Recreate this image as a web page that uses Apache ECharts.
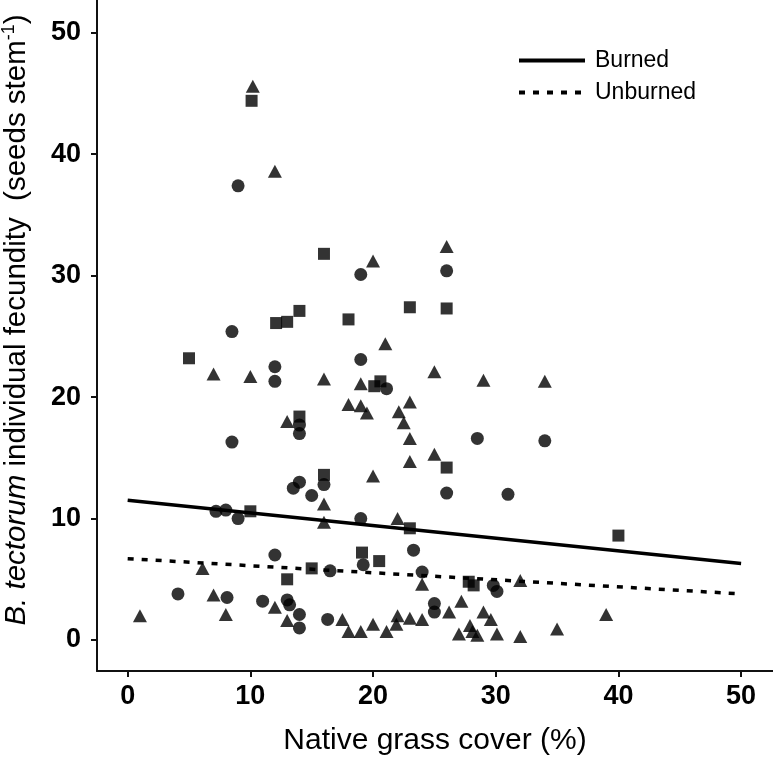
<!DOCTYPE html>
<html>
<head>
<meta charset="utf-8">
<script src="https://cdn.jsdelivr.net/npm/echarts@6/dist/echarts.min.js"></script>
<style>
html,body{margin:0;padding:0;background:#fff;}
#chart{width:773px;height:761px;}
</style>
</head>
<body>
<div id="chart"></div>
<script>
// ---- data ----
const tickValues = [0, 10, 20, 30, 40, 50];
const burnedLine = [[0, 11.5], [50, 6.3]];
const unburnedLine = [[0, 6.7], [50, 3.8]];
const circles = [
  [9.0,37.4],[19.0,30.1],[26.0,30.4],[8.5,25.4],[19.0,23.1],[12.0,22.5],[12.0,21.3],[21.1,20.7],
  [14.0,17.7],[14.0,17.0],[8.5,16.3],[34.0,16.4],[28.5,16.6],[13.5,12.5],[14.0,13.0],[16.0,12.8],
  [15.0,11.9],[7.2,10.6],[8.0,10.7],[9.0,10.0],[19.0,10.0],[12.0,7.0],[19.2,6.2],[16.5,5.7],
  [24.0,5.6],[23.3,7.4],[4.1,3.8],[8.1,3.5],[11.0,3.2],[13.0,3.3],[13.2,2.9],[14.0,2.1],
  [14.0,1.0],[16.3,1.7],[25.0,3.0],[25.0,2.3],[29.8,4.5],[30.1,4.0],[26.0,12.1],[31.0,12.0]
];
const squares = [
  [10.1,44.4],[16.0,31.8],[14.0,27.1],[12.1,26.1],[13.0,26.2],[18.0,26.4],[23.0,27.4],[26.0,27.3],
  [5.0,23.2],[20.1,20.9],[20.6,21.3],[14.0,18.4],[26.0,14.2],[16.0,13.6],[10.0,10.6],[23.0,9.2],
  [40.0,8.6],[19.1,7.2],[20.5,6.5],[15.0,5.9],[13.0,5.0],[27.8,4.8],[28.2,4.5]
];
const triangles = [
  [10.2,45.6],[12.0,38.6],[20.0,31.2],[26.0,32.4],[21.0,24.4],[7.0,21.9],[10.0,21.7],[16.0,21.5],
  [19.0,21.1],[18.0,19.4],[19.0,19.3],[19.5,18.7],[22.1,18.8],[22.5,17.9],[23.0,19.6],[23.0,16.6],
  [23.0,14.7],[25.0,22.1],[25.0,15.3],[29.0,21.4],[34.0,21.3],[13.0,18.0],[20.0,13.5],[16.0,11.2],
  [16.0,9.7],[22.0,10.0],[6.1,5.9],[7.0,3.7],[8.0,2.1],[1.0,2.0],[12.0,2.7],[13.0,1.6],
  [17.5,1.7],[18.0,0.7],[19.0,0.7],[20.0,1.3],[21.1,0.7],[22.0,2.0],[21.9,1.3],[23.0,1.8],
  [24.0,1.7],[24.0,4.6],[27.2,3.2],[26.2,2.3],[29.0,2.3],[29.6,1.7],[27.9,1.2],[28.1,0.7],
  [28.5,0.4],[27.0,0.5],[30.1,0.5],[32.0,0.3],[32.0,4.9],[35.0,0.9],[39.0,2.1]
];
const xTitle = 'Native grass cover (%)';
const legendNames = ['Burned', 'Unburned'];

// ---- chart ----
const FONT = '"Liberation Sans", Arial, Helvetica, sans-serif';
const INK = '#000';
const chart = echarts.init(document.getElementById('chart'), null, {renderer: 'canvas'});

function axisCommon() {
  return {
    type: 'value',
    splitLine: {show: false},
    axisLine: {show: true, onZero: false, lineStyle: {color: '#111', width: 2}},
    axisTick: {show: true, customValues: tickValues, length: 6, lineStyle: {color: '#111', width: 2}},
    axisLabel: {customValues: tickValues, color: INK, fontSize: 27, fontFamily: FONT, fontWeight: 'bold'}
  };
}

const xAxis = Object.assign(axisCommon(), {
  min: -2.5, max: 52.6,
  name: xTitle, nameLocation: 'middle', nameGap: 55,
  nameTextStyle: {fontSize: 30, color: INK, fontFamily: FONT}
});
xAxis.axisLabel.margin = 12;
const yAxis = Object.assign(axisCommon(), {min: -2.55, max: 52.7});
yAxis.axisLabel.margin = 16;

chart.setOption({
  backgroundColor: '#fff',
  animation: false,
  grid: {left: 97, right: 0, top: 0, bottom: 84, containLabel: false},
  xAxis: xAxis,
  yAxis: yAxis,
  legend: {
    data: legendNames,
    orient: 'vertical',
    left: 512, top: 44,
    itemWidth: 66, itemHeight: 22, itemGap: 9,
    itemStyle: {opacity: 0},
    lineStyle: {width: 4, color: INK},
    textStyle: {fontSize: 23, color: INK, fontFamily: FONT, padding: [0, 0, 0, 5]}
  },
  graphic: [{
    type: 'text',
    x: 17, y: 320,
    rotation: Math.PI / 2,
    style: {
      text: '{i|B. tectorum} individual fecundity  (seeds stem{sup|-1})',
      fontSize: 29.5, fontFamily: FONT, fill: INK,
      align: 'center', verticalAlign: 'middle',
      rich: {
        i: {fontSize: 29.5, fontStyle: 'italic', fontFamily: FONT, lineHeight: 34},
        sup: {fontSize: 18, fontFamily: FONT, verticalAlign: 'top', lineHeight: 34, padding: [0, 0, 10, 0]}
      }
    }
  }],
  series: [
    {name: 'Burned', type: 'line', data: burnedLine, symbol: 'none', lineStyle: {color: INK, width: 3.5, type: 'solid'}, itemStyle: {color: INK}, z: 3},
    {name: 'Unburned', type: 'line', data: unburnedLine, symbol: 'none', lineStyle: {color: INK, width: 3.5, type: [6, 8]}, itemStyle: {color: INK}, z: 3},
    {name: 'circles', type: 'scatter', data: circles, symbol: 'circle', symbolSize: 13, itemStyle: {color: INK}, z: 4},
    {name: 'squares', type: 'scatter', data: squares, symbol: 'rect', symbolSize: 12, itemStyle: {color: INK}, z: 4},
    {name: 'triangles', type: 'scatter', data: triangles, symbol: 'triangle', symbolSize: [14, 13], itemStyle: {color: INK}, z: 4}
  ]
});
</script>
</body>
</html>
